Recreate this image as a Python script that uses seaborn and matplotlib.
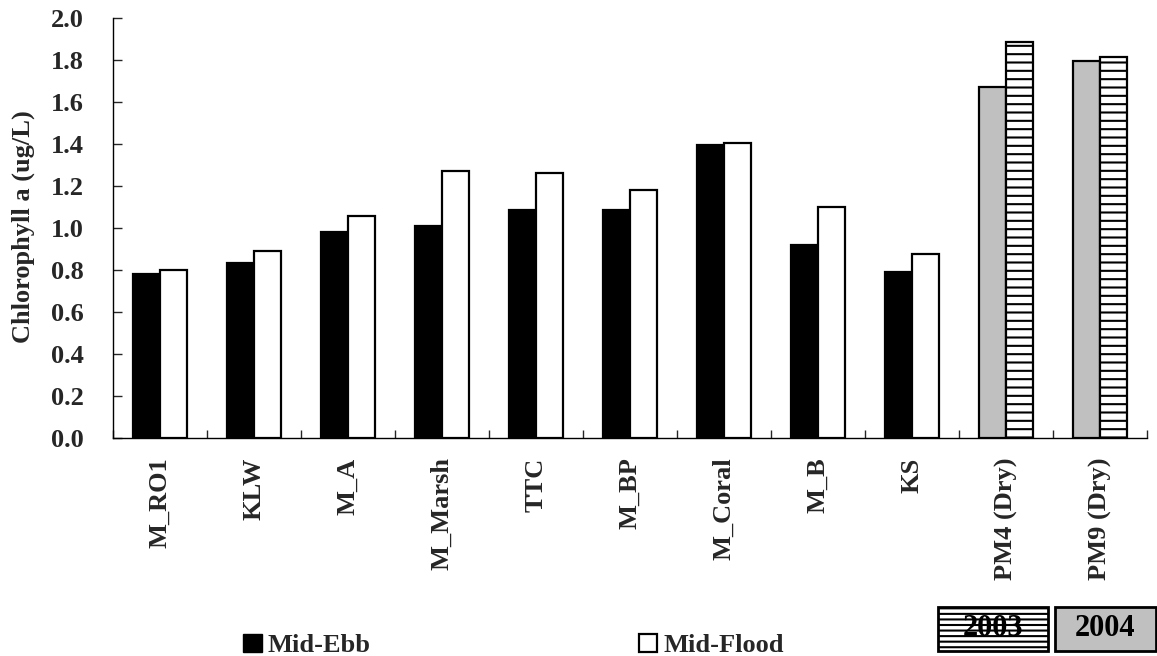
import numpy as np
import pandas as pd
import matplotlib
matplotlib.use("Agg")
import matplotlib.pyplot as plt
import seaborn as sns
from matplotlib.patches import Rectangle

# Chlorophyll a par site, mi-jusant / mi-flot
sites = ['M_RO1', 'KLW', 'M_A', 'M_Marsh', 'TTC', 'M_BP', 'M_Coral', 'M_B', 'KS',
         'PM4 (Dry)', 'PM9 (Dry)']
mid_ebb = [0.78, 0.835, 0.98, 1.01, 1.085, 1.086, 1.395, 0.92, 0.792, 1.67, 1.795]
mid_flood = [0.80, 0.89, 1.057, 1.27, 1.263, 1.181, 1.406, 1.10, 0.875, 1.884, 1.816]
tides = ['Mid-Ebb', 'Mid-Flood']
yticks = [0.0, 0.2, 0.4, 0.6, 0.8, 1.0, 1.2, 1.4, 1.6, 1.8, 2.0]

df = pd.DataFrame({
    'site': sites * 2,
    'chl': mid_ebb + mid_flood,
    'tide': [tides[0]] * len(sites) + [tides[1]] * len(sites),
})

sns.set_style('ticks')
plt.rcParams['font.family'] = ['Liberation Serif', 'DejaVu Serif']
plt.rcParams['font.weight'] = 'bold'
plt.rcParams['hatch.linewidth'] = 1.5

W, H = 1157, 656
fig = plt.figure(figsize=(W / 100, H / 100), dpi=100)
ax = fig.add_axes([113 / W, 1 - 438 / H, (1147 - 113) / W, (438 - 18) / H])


def fx(px):
    return px / W


def fy(py):
    return 1 - py / H


sns.barplot(data=df, x='site', y='chl', hue='tide', order=sites, hue_order=tides,
            palette=['black', 'white'], width=0.58, edgecolor='black',
            linewidth=1.6, legend=False, ax=ax)

# Sites en saison sèche : gris / hachuré
for i in (9, 10):
    ax.containers[0][i].set_facecolor('#C0C0C0')
    ax.containers[1][i].set_facecolor('white')
    ax.containers[1][i].set_hatch('--')

ax.set_xlim(-0.5, 10.5)
ax.set_ylim(0, 2.0)
ax.set_yticks(yticks)
ax.set_yticklabels([f'{v:.1f}' for v in yticks])
ax.set_xlabel('')
ax.set_ylabel('')
for s in ['top', 'right']:
    ax.spines[s].set_visible(False)
for s in ['left', 'bottom']:
    ax.spines[s].set_linewidth(1.0)
    ax.spines[s].set_color('black')

ax.set_xticks(np.arange(len(sites)))
ax.set_xticklabels(sites, rotation=90, va='top', ha='center')
ax.set_xticks(np.arange(len(sites) + 1) - 0.5, minor=True)
ax.tick_params(axis='x', which='major', length=0, pad=14, labelsize=19)
ax.tick_params(axis='x', which='minor', direction='in', length=6, width=1)
ax.tick_params(axis='y', direction='in', length=6.5, width=1, pad=21, labelsize=19)

fig.text(fx(23), fy(227), 'Chlorophyll a (ug/L)', rotation=90, ha='center',
         va='center', fontsize=19, fontweight='bold')

# Légende en bas
fig.add_artist(Rectangle((fx(243), fy(652)), 19 / W, 18 / H, transform=fig.transFigure,
                         facecolor='black', edgecolor='black', lw=1))
fig.text(fx(268), fy(652), 'Mid-Ebb', ha='left', va='baseline', fontsize=19,
         fontweight='bold')
fig.add_artist(Rectangle((fx(639), fy(652)), 18 / W, 18 / H, transform=fig.transFigure,
                         facecolor='white', edgecolor='black', lw=1.6))
fig.text(fx(663), fy(652), 'Mid-Flood', ha='left', va='baseline', fontsize=19,
         fontweight='bold')

fig.add_artist(Rectangle((fx(938), fy(651)), 110 / W, 44 / H, transform=fig.transFigure,
                         facecolor='white', edgecolor='black', lw=2, hatch='---',
                         zorder=1))
fig.text(fx(993), fy(629), '2003', ha='center', va='center', fontsize=22,
         fontweight='bold', color='black', zorder=5)
fig.add_artist(Rectangle((fx(1055), fy(651)), 101 / W, 44 / H, transform=fig.transFigure,
                         facecolor='#C0C0C0', edgecolor='black', lw=2, zorder=1))
fig.text(fx(1105), fy(629), '2004', ha='center', va='center', fontsize=22,
         fontweight='bold', color='black', zorder=5)

fig.savefig('out.png', dpi=100, facecolor='white')
